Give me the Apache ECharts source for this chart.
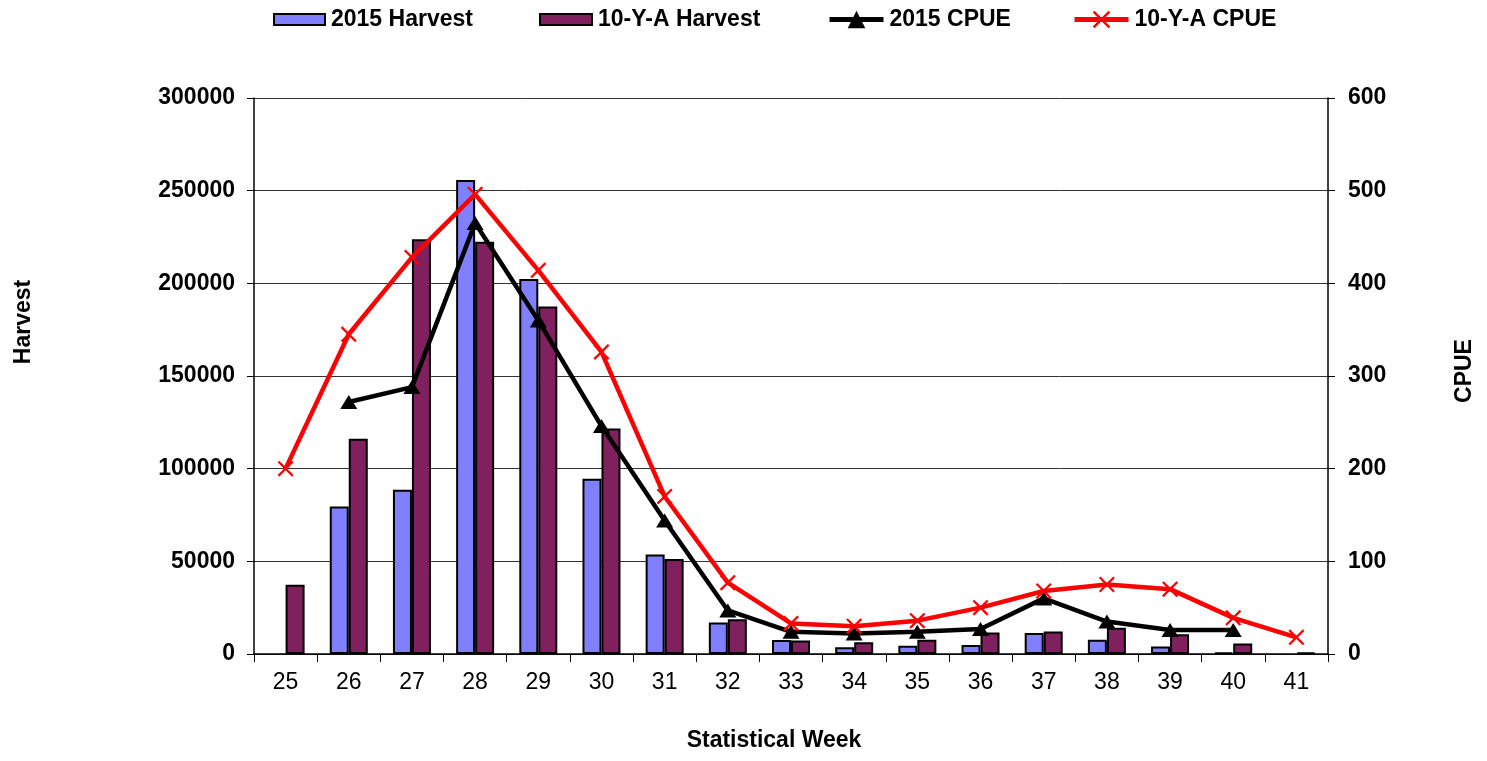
<!DOCTYPE html>
<html>
<head>
<meta charset="utf-8">
<script src="https://cdn.jsdelivr.net/npm/echarts@6/dist/echarts.min.js"></script>
<style>
html,body{margin:0;padding:0;background:#fff;}
#chart{width:1487px;height:761px;}
</style>
</head>
<body>
<div id="chart"></div>
<script>
var weeks = ['25','26','27','28','29','30','31','32','33','34','35','36','37','38','39','40','41'];
var harvest2015 = [null, 79600, 88600, 255700, 202300, 94500, 53700, 17000, 7500, 3600, 4500, 4800, 11300, 7700, 4100, 800, null];
var harvestAvg = [37300, 116100, 223800, 222400, 187500, 121700, 51300, 18800, 7300, 6300, 7700, 11600, 12200, 14200, 10600, 5700, 800];
var cpue2015 = [null, 272, 288, 465, 360, 246, 144, 47, 24, 22, 24, 27, 60, 35, 26, 26, null];
var cpueAvg = [200, 345, 428, 496, 414, 326, 170, 77, 33, 30, 36, 50, 68, 75, 70, 39, 18];
var harvestTicks = [0, 50000, 100000, 150000, 200000, 250000, 300000];
var cpueTicks = [0, 100, 200, 300, 400, 500, 600];

var FONT = '"Liberation Sans", Arial, sans-serif';
var crossPath = 'path://M0,1.6L1.6,0L8,6.4L14.4,0L16,1.6L9.6,8L16,14.4L14.4,16L8,9.6L1.6,16L0,14.4L6.4,8Z';

var chart = echarts.init(document.getElementById('chart'), null, {renderer: 'canvas'});

function legendAt(name, left, w, h, extra) {
  var l = {
    data: [name], left: left, top: 8, itemWidth: w, itemHeight: h, itemGap: 0,
    padding: 0,
    textStyle: {fontFamily: FONT, fontWeight: 'bold', fontSize: 23, color: '#000', padding: [0, 0, 0, 1]}
  };
  for (var k in extra) l[k] = extra[k];
  return l;
}

var option = {
  animation: false,
  backgroundColor: '#fff',
  textStyle: {fontFamily: FONT},
  legend: [
    legendAt('2015 Harvest', 273, 51, 11, {icon: 'rect'}),
    legendAt('10-Y-A Harvest', 539, 52, 11, {icon: 'rect'}),
    legendAt('2015 CPUE', 827, 54, 22, {top: 8, lineStyle: {width: 5}}),
    legendAt('10-Y-A CPUE', 1072, 54, 22, {top: 8, lineStyle: {width: 5}})
  ],
  grid: {left: 254, right: 159, top: 98, bottom: 107, containLabel: false},
  xAxis: {
    type: 'category',
    data: weeks,
    boundaryGap: true,
    axisLine: {show: true, lineStyle: {color: '#000', width: 1.5}},
    axisTick: {show: true, interval: 0, length: 8, lineStyle: {color: '#000', width: 1}},
    axisLabel: {fontFamily: FONT, fontSize: 23, color: '#000', margin: 17, interval: 0},
    splitLine: {show: false}
  },
  yAxis: [
    {
      type: 'value', min: harvestTicks[0], max: harvestTicks[harvestTicks.length - 1], interval: 50000,
      axisLine: {show: true, lineStyle: {color: '#000', width: 1.5}},
      axisTick: {show: true, length: 7, lineStyle: {color: '#000'}},
      axisLabel: {fontFamily: FONT, fontWeight: 'bold', fontSize: 23, color: '#000', margin: 19,
                  formatter: function (v) { return String(v); }},
      splitLine: {show: true, lineStyle: {color: '#333', width: 1}}
    },
    {
      type: 'value', min: cpueTicks[0], max: cpueTicks[cpueTicks.length - 1], interval: 100,
      position: 'right',
      axisLine: {show: true, lineStyle: {color: '#000', width: 1.5}},
      axisTick: {show: true, length: 7, lineStyle: {color: '#000'}},
      axisLabel: {fontFamily: FONT, fontWeight: 'bold', fontSize: 23, color: '#000', margin: 20,
                  formatter: function (v) { return String(v); }},
      splitLine: {show: false}
    }
  ],
  graphic: [
    {type: 'text', x: 24, y: 322, rotation: Math.PI / 2,
     style: {text: 'Harvest', fontFamily: FONT, fontWeight: 'bold', fontSize: 23, fill: '#000', align: 'center', verticalAlign: 'middle'}},
    {type: 'text', x: 1465, y: 371, rotation: Math.PI / 2,
     style: {text: 'CPUE', fontFamily: FONT, fontWeight: 'bold', fontSize: 23, fill: '#000', align: 'center', verticalAlign: 'middle'}},
    {type: 'text', x: 774, y: 741,
     style: {text: 'Statistical Week', fontFamily: FONT, fontWeight: 'bold', fontSize: 23, fill: '#000', align: 'center', verticalAlign: 'middle'}}
  ],
  series: [
    {
      name: '2015 Harvest', type: 'bar', yAxisIndex: 0, data: harvest2015,
      barWidth: 19, barGap: '0%',
      itemStyle: {color: '#8080FF', borderColor: '#000', borderWidth: 2}
    },
    {
      name: '10-Y-A Harvest', type: 'bar', yAxisIndex: 0, data: harvestAvg,
      barWidth: 19, barGap: '0%',
      itemStyle: {color: '#80205F', borderColor: '#000', borderWidth: 2}
    },
    {
      name: '2015 CPUE', type: 'line', yAxisIndex: 1, data: cpue2015,
      symbol: 'triangle', symbolSize: [17, 14], showSymbol: true,
      lineStyle: {color: '#000', width: 4.5},
      itemStyle: {color: '#000'},
      z: 3
    },
    {
      name: '10-Y-A CPUE', type: 'line', yAxisIndex: 1, data: cpueAvg,
      symbol: crossPath, symbolSize: 16, showSymbol: true,
      lineStyle: {color: '#FF0000', width: 4.5},
      itemStyle: {color: '#FF0000'},
      z: 4
    }
  ]
};
chart.setOption(option);
</script>
</body>
</html>
